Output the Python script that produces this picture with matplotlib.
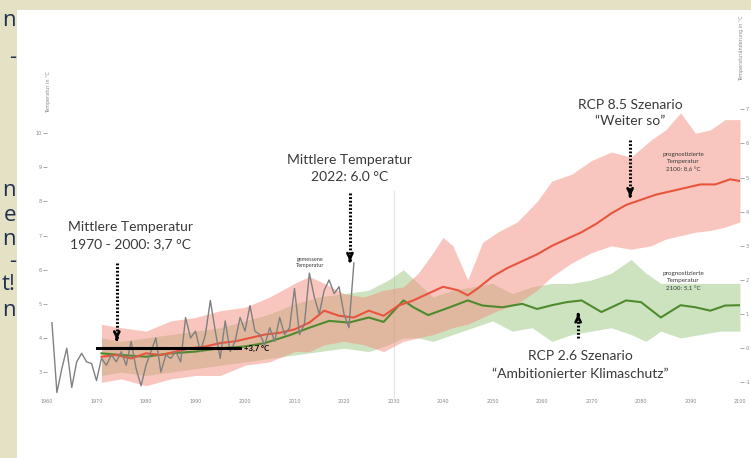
import numpy as np
import matplotlib.pyplot as plt
from matplotlib.patches import Rectangle

# measured annual mean temperature (grey line)
obs_years = list(range(1961, 2023))
obs_temp = [4.45, 2.4, 3.1, 3.7, 2.55, 3.3, 3.55, 3.3, 3.25, 2.75,
            3.4, 3.2, 3.5, 3.3, 3.6, 3.2, 3.9, 3.1, 2.6, 3.2,
            3.6, 4.0, 3.0, 3.5, 3.4, 3.6, 3.3, 4.6, 4.0, 4.2,
            3.6, 4.1, 5.1, 4.2, 3.4, 4.5, 3.6, 3.9, 4.6, 4.2,
            4.95, 4.2, 4.1, 3.8, 4.3, 3.9, 4.6, 4.1, 4.3, 5.45,
            4.1, 4.4, 5.9, 5.2, 4.7, 5.4, 5.7, 5.3, 5.5, 4.7,
            4.3, 6.2]

# RCP 8.5 mean
r85_years = [1971, 1974, 1977, 1980, 1983, 1986, 1989, 1992, 1995, 1998,
             2001, 2004, 2007, 2010, 2013, 2016, 2019, 2022, 2025, 2028,
             2031, 2034, 2037, 2040, 2043, 2045, 2047, 2050, 2053, 2056,
             2059, 2062, 2065, 2068, 2071, 2074, 2077, 2080, 2083, 2086,
             2089, 2092, 2095, 2098, 2100]
r85_mean = [3.45, 3.5, 3.4, 3.55, 3.5, 3.6, 3.7, 3.75, 3.85, 3.9,
            4.0, 4.1, 4.15, 4.25, 4.45, 4.8, 4.65, 4.6, 4.8, 4.65,
            4.95, 5.1, 5.3, 5.5, 5.4, 5.25, 5.45, 5.8, 6.05, 6.25,
            6.45, 6.7, 6.9, 7.1, 7.35, 7.65, 7.9, 8.05, 8.2, 8.3,
            8.4, 8.5, 8.5, 8.65, 8.6]

# RCP 8.5 range
r85_band_years = [1971, 1975, 1980, 1985, 1990, 1995, 2000, 2005, 2010, 2013,
                  2016, 2020, 2024, 2028, 2032, 2035, 2038, 2040, 2042, 2045,
                  2048, 2051, 2055, 2059, 2062, 2066, 2070, 2074, 2078, 2082,
                  2085, 2088, 2091, 2094, 2097, 2100]
r85_low = [2.7, 2.8, 2.6, 2.8, 2.9, 2.9, 3.2, 3.3, 3.6, 3.6,
           3.8, 3.9, 3.8, 3.6, 3.9, 4.0, 4.1, 4.2, 4.3, 4.4,
           4.6, 4.8, 5.0, 5.4, 5.8, 6.2, 6.5, 6.7, 6.6, 6.7,
           6.9, 7.0, 7.1, 7.15, 7.25, 7.4]
r85_high = [4.4, 4.3, 4.2, 4.5, 4.6, 4.8, 4.9, 5.2, 5.6, 5.8,
            5.6, 5.3, 5.2, 5.4, 5.5, 5.9, 6.5, 6.95, 6.7, 5.7,
            6.8, 7.1, 7.4, 8.0, 8.6, 8.8, 9.2, 9.45, 9.3, 9.8,
            10.1, 10.6, 10.0, 10.1, 10.4, 10.4]

# RCP 2.6 mean
r26_years = [1971, 1975, 1980, 1985, 1990, 1995, 2000, 2004, 2009, 2013,
             2017, 2021, 2025, 2028, 2032, 2034, 2037, 2041, 2045, 2048,
             2052, 2056, 2059, 2062, 2065, 2068, 2072, 2077, 2080, 2084,
             2088, 2091, 2094, 2097, 2100]
r26_mean = [3.55, 3.5, 3.45, 3.55, 3.6, 3.7, 3.75, 3.85, 4.08, 4.3,
            4.5, 4.45, 4.6, 4.47, 5.1, 4.9, 4.67, 4.88, 5.1, 4.95,
            4.9, 5.0, 4.85, 4.96, 5.05, 5.1, 4.76, 5.1, 5.05, 4.6,
            4.96, 4.9, 4.8, 4.95, 4.96]

# RCP 2.6 range
r26_band_years = [1971, 1975, 1980, 1985, 1990, 1995, 2000, 2005, 2010, 2015,
                  2020, 2025, 2029, 2032, 2035, 2038, 2042, 2046, 2050, 2054,
                  2058, 2062, 2066, 2070, 2074, 2078, 2081, 2084, 2088, 2092,
                  2096, 2100]
r26_low = [2.9, 3.0, 2.9, 3.0, 3.1, 3.2, 3.3, 3.4, 3.5, 3.6,
           3.7, 3.6, 3.8, 4.0, 4.0, 3.9, 4.1, 4.3, 4.5, 4.2,
           4.3, 3.9, 4.1, 4.2, 4.3, 4.1, 3.9, 4.2, 4.0, 4.1,
           4.2, 4.2]
r26_high = [4.0, 3.9, 4.0, 4.1, 4.2, 4.3, 4.5, 4.7, 5.0, 5.2,
            5.3, 5.4, 5.7, 6.0, 5.6, 5.2, 5.4, 5.5, 5.6, 5.3,
            5.5, 5.6, 5.6, 5.7, 5.9, 6.3, 5.9, 5.6, 5.6, 5.6,
            5.6, 5.6]

ref_period = [1970, 1999]
ref_mean = 3.7

x_ticks = list(range(1960, 2101, 10))
left_ticks = [3, 4, 5, 6, 7, 8, 9, 10]
right_ticks = [-1, 0, 1, 2, 3, 4, 5, 6, 7]

W, H = 751, 458
fig = plt.figure(figsize=(W / 100, H / 100), dpi=100)
fig.patch.set_facecolor("#e4e1c5")
navy = "#1f2f4f"

# clipped text of the surrounding page
fig.text(0.02, 1.0 + 5 / H, "Temperaturprognose  (Temperaturentwicklung und Szenarien)",
         fontsize=15, color=navy, va="baseline", ha="left", family="Open Sans")
side = [("n", 20), ("-", 58), ("n", 191), ("e", 215), ("n", 239), ("-", 262), ("t!", 285), ("n", 311)]
for ch, yp in side:
    fig.text(16 / W, 1 - yp / H, ch, fontsize=16, color=navy, ha="right", va="center",
             family="Open Sans")

fig.patches.append(Rectangle((17 / W, 0), 1, 1 - 10 / H, transform=fig.transFigure,
                             facecolor="white", edgecolor="none", zorder=-10))

ax = fig.add_axes([47 / W, (H - 398) / H, (740 - 47) / W, (398 - 20) / H])
ax.set_facecolor("none")
ax.set_xlim(1960, 2100)
ax.set_ylim(2.24, 13.32)
for s in ax.spines.values():
    s.set_visible(False)

txt = "#3a3a3a"
font = "Lato"

ax.fill_between(r26_band_years, r26_low, r26_high, color="#9cc882", alpha=0.5, lw=0, zorder=1)
ax.fill_between(r85_band_years, r85_low, r85_high, color="#f28e7f", alpha=0.5, lw=0, zorder=2)
ax.plot(r26_years, r26_mean, color="#4f8a2e", lw=1.5, zorder=3)
ax.plot(r85_years, r85_mean, color="#e8553e", lw=1.5, zorder=3)
ax.plot(obs_years, obs_temp, color="#808080", lw=1.0, zorder=4)
ax.plot(ref_period, [ref_mean, ref_mean], color="black", lw=2.2, zorder=5)
ax.plot([2030, 2030], [2.24, 8.3], color="#e2e2e2", lw=0.8, zorder=0)

ax.text(1999.8, ref_mean, "+3,7 °C", fontsize=5.5, fontweight="bold", color="black",
        va="center", ha="left", family=font)


def dotted_arrow(x, y0, y1):
    ax.plot([x, x], [y0, y1], color="black", lw=2.2, ls=(0, (0.6, 0.6)), zorder=6)
    d = 0.01 if y1 < y0 else -0.01
    ax.annotate("", xy=(x, y1), xytext=(x, y1 + d),
                arrowprops=dict(arrowstyle="->", color="black", lw=2, mutation_scale=9),
                zorder=6)


dotted_arrow(1974.1, 6.2, 3.95)
dotted_arrow(2021.2, 8.25, 6.25)
dotted_arrow(2077.8, 9.8, 8.15)
dotted_arrow(2067.3, 4.0, 4.7)

ax.text(1976.8, 6.99, "Mittlere Temperatur\n1970 - 2000: 3,7 °C", fontsize=10, color=txt,
        ha="center", va="center", linespacing=1.5, family=font)
ax.text(2021.2, 8.97, "Mittlere Temperatur\n2022: 6.0 °C", fontsize=10, color=txt,
        ha="center", va="center", linespacing=1.5, family=font)
ax.text(2077.8, 10.6, "RCP 8.5 Szenario\n\u201cWeiter so\u201d", fontsize=10, color=txt,
        ha="center", va="center", linespacing=1.4, family=font)
ax.text(2067.7, 3.2, "RCP 2.6 Szenario\n\u201cAmbitionierter Klimaschutz\u201d", fontsize=10,
        color=txt, ha="center", va="center", linespacing=1.6, family=font)
ax.text(2088.5, 9.16, "prognostizierte\nTemperatur\n2100: 8,6 °C", fontsize=4.5, color=txt,
        ha="center", va="center", linespacing=1.5, family=font)
ax.text(2088.5, 5.67, "prognostizierte\nTemperatur\n2100: 5,1 °C", fontsize=4.5, color=txt,
        ha="center", va="center", linespacing=1.5, family=font)
ax.text(2013.1, 6.22, "gemessene\nTemperatur", fontsize=4, color=txt,
        ha="center", va="center", linespacing=1.3, family=font)

ax.set_xticks(x_ticks)
ax.set_xticklabels([str(v) for v in x_ticks])
ax.tick_params(axis="x", length=0, labelsize=3.5, labelcolor="#888888", pad=1)
ax.set_yticks(left_ticks)
ax.set_yticklabels([str(v) for v in left_ticks])
ax.tick_params(axis="y", length=3, width=0.6, color="#999999", labelsize=3.5,
               labelcolor="#888888", pad=1)
ax.text(1960.3, 11.2, "Temperatur in °C", rotation=90, fontsize=3.5, color="#888888",
        ha="center", va="center")

sec = ax.secondary_yaxis("right", functions=(lambda v: v - ref_mean, lambda a: a + ref_mean))
sec.set_yticks(right_ticks)
sec.set_yticklabels([str(v) for v in right_ticks])
sec.tick_params(length=3, width=0.6, color="#999999", labelsize=3.5, labelcolor="#888888", pad=1)
for s in sec.spines.values():
    s.set_visible(False)
fig.text(742 / W, 1 - 48 / H, "Temperaturänderung in °C", rotation=90, fontsize=3.5,
         color="#888888", ha="center", va="center")

fig.savefig("out.png", dpi=100, facecolor=fig.get_facecolor())
